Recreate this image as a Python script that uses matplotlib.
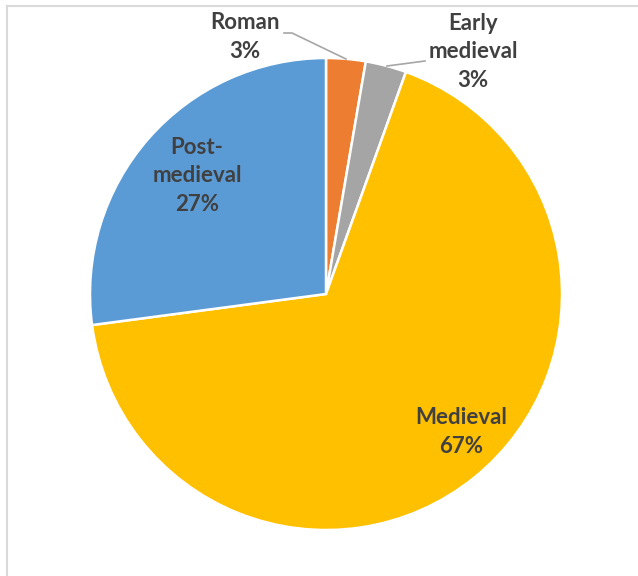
import matplotlib.pyplot as plt
from matplotlib.lines import Line2D

# data
periods = ['Roman', 'Early medieval', 'Medieval', 'Post-medieval']
shares = [2.7, 2.8, 67.4, 27.1]
colors = ['#ED7D31', '#A5A5A5', '#FFC000', '#5B9BD5']
label_text = ['Roman', 'Early\nmedieval', 'Medieval', 'Post-\nmedieval']

W, H = 638, 576
fig = plt.figure(figsize=(W / 100, H / 100), dpi=100)
ax = fig.add_axes([0, 0, 1, 1])

cx, cy, r = 326, H - 294, 236
ax.pie(shares, colors=colors, startangle=90, counterclock=False,
       center=(cx, cy), radius=r, frame=True,
       wedgeprops=dict(edgecolor='white', linewidth=1.8))
ax.set_xlim(0, W)
ax.set_ylim(0, H)
ax.set_aspect('equal')
ax.axis('off')

# label positions in pixel coords (top-left origin)
label_pos = [(245, 37), (473, 52), (461, 432), (197, 176)]
txt_kw = dict(ha='center', va='center', fontsize=16, fontweight='bold',
              color='#404040', family=['Lato', 'DejaVu Sans'], linespacing=1.42)
for name, val, (x, y) in zip(label_text, shares, label_pos):
    ax.text(x, H - y, f"{name}\n{round(val)}%", **txt_kw)

# leader lines
ax.plot([284, 292, 346], [H - 33, H - 33, H - 59], color='#A6A6A6', lw=1.2)
ax.plot([425, 387], [H - 61, H - 66], color='#A6A6A6', lw=1.2)

# chart frame (top + left edges)
fig.add_artist(Line2D([6.5 / W, 1], [1 - 5.5 / H, 1 - 5.5 / H],
                      color='#D9D9D9', lw=1.5, transform=fig.transFigure))
fig.add_artist(Line2D([6.5 / W, 6.5 / W], [0, 1 - 5.5 / H],
                      color='#D9D9D9', lw=1.5, transform=fig.transFigure))

fig.savefig('out.png', dpi=100)
